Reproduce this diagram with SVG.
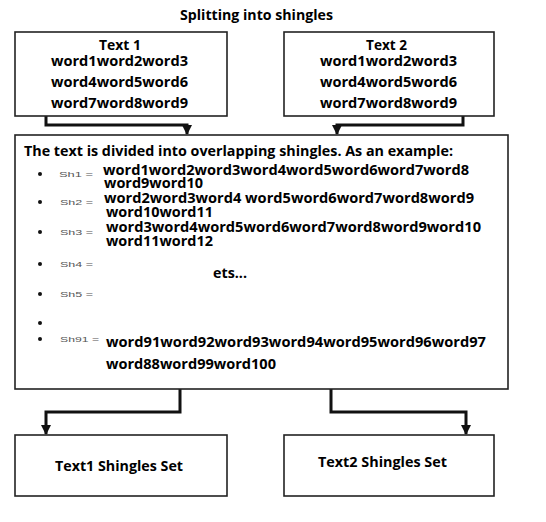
<svg xmlns="http://www.w3.org/2000/svg" width="546" height="522" viewBox="0 0 546 522">
<style>
.box{fill:#fff;stroke:#222;stroke-width:1.6}
.t{font-family:"Open Sans","Liberation Sans",sans-serif;font-weight:bold;font-size:15px;fill:#000}
.w{font-family:"Open Sans","Liberation Sans",sans-serif;font-weight:bold;font-size:14px;fill:#000}
.tt{font-family:"Open Sans","Liberation Sans",sans-serif;font-weight:bold;font-size:14px;fill:#000}
.sh{font-family:"Liberation Sans",sans-serif;font-size:8px;fill:#555}
.conn{fill:none;stroke:#111;stroke-width:3}
.bul{fill:#111}
</style>
<defs>
<marker id="ah" viewBox="0 0 10 10" refX="9" refY="5" markerWidth="3.4" markerHeight="3.4" orient="auto" markerUnits="strokeWidth">
<path d="M0,0 L10,5 L0,10 Z" fill="#111"/>
</marker>
</defs>
<rect width="546" height="522" fill="#fff"/>
<text id="title" class="tt" x="180" y="20" textLength="153" lengthAdjust="spacingAndGlyphs">Splitting into shingles</text>
<g id="connectors">
<path class="conn" d="M46,116 V125 H187 V134" marker-end="url(#ah)"/>
<path class="conn" d="M463,116 V125 H337 V134" marker-end="url(#ah)"/>
<path class="conn" d="M180,389 V412 H46 V434" marker-end="url(#ah)"/>
<path class="conn" d="M331,389 V412 H466 V434" marker-end="url(#ah)"/>
</g>
<g id="text1">
<rect class="box" x="15" y="32" width="212" height="84"/>
<text class="tt" x="99" y="50" textLength="42" lengthAdjust="spacingAndGlyphs">Text 1</text>
<text class="t" x="51" y="66" textLength="137" lengthAdjust="spacingAndGlyphs">word1word2word3</text>
<text class="t" x="51" y="87" textLength="137" lengthAdjust="spacingAndGlyphs">word4word5word6</text>
<text class="t" x="51" y="108" textLength="137" lengthAdjust="spacingAndGlyphs">word7word8word9</text>
</g>
<g id="text2">
<rect class="box" x="284" y="32" width="210" height="84"/>
<text class="tt" x="366" y="50" textLength="41" lengthAdjust="spacingAndGlyphs">Text 2</text>
<text class="t" x="320" y="66" textLength="137" lengthAdjust="spacingAndGlyphs">word1word2word3</text>
<text class="t" x="320" y="87" textLength="137" lengthAdjust="spacingAndGlyphs">word4word5word6</text>
<text class="t" x="320" y="108" textLength="137" lengthAdjust="spacingAndGlyphs">word7word8word9</text>
</g>
<g id="shingles">
<rect class="box" x="15" y="135" width="493" height="254"/>
<text class="t" x="24" y="156" textLength="429" lengthAdjust="spacingAndGlyphs">The text is divided into overlapping shingles. As an example:</text>
<circle class="bul" cx="40" cy="174" r="2"/>
<text class="sh" x="59" y="177" textLength="34" lengthAdjust="spacingAndGlyphs">Sh1 =</text>
<text class="w" x="103" y="175" textLength="366" lengthAdjust="spacingAndGlyphs">word1word2word3word4word5word6word7word8</text>
<text class="w" x="104" y="188" textLength="99" lengthAdjust="spacingAndGlyphs">word9word10</text>
<circle class="bul" cx="40" cy="202" r="2"/>
<text class="sh" x="60" y="205" textLength="33" lengthAdjust="spacingAndGlyphs">Sh2 =</text>
<text class="w" x="104" y="203" textLength="370" lengthAdjust="spacingAndGlyphs">word2word3word4 word5word6word7word8word9</text>
<text class="w" x="106" y="217" textLength="107" lengthAdjust="spacingAndGlyphs">word10word11</text>
<circle class="bul" cx="40" cy="232" r="2"/>
<text class="sh" x="60" y="235" textLength="33" lengthAdjust="spacingAndGlyphs">Sh3 =</text>
<text class="w" x="106" y="232" textLength="375" lengthAdjust="spacingAndGlyphs">word3word4word5word6word7word8word9word10</text>
<text class="w" x="106" y="246" textLength="107" lengthAdjust="spacingAndGlyphs">word11word12</text>
<circle class="bul" cx="40" cy="264" r="2"/>
<text class="sh" x="60" y="267" textLength="33" lengthAdjust="spacingAndGlyphs">Sh4 =</text>
<text class="tt" x="213" y="278" textLength="34" lengthAdjust="spacingAndGlyphs">ets...</text>
<circle class="bul" cx="40" cy="294" r="2"/>
<text class="sh" x="60" y="297" textLength="33" lengthAdjust="spacingAndGlyphs">Sh5 =</text>
<circle class="bul" cx="40" cy="323" r="2"/>
<circle class="bul" cx="40" cy="339" r="2"/>
<text class="sh" x="60" y="342" textLength="39" lengthAdjust="spacingAndGlyphs">Sh91 =</text>
<text class="t" x="106" y="347" textLength="380" lengthAdjust="spacingAndGlyphs">word91word92word93word94word95word96word97</text>
<text class="t" x="106" y="369" textLength="170" lengthAdjust="spacingAndGlyphs">word88word99word100</text>
</g>
<g id="set1">
<rect class="box" x="15" y="435" width="212" height="61"/>
<text class="tt" x="55" y="471" textLength="128" lengthAdjust="spacingAndGlyphs">Text1 Shingles Set</text>
</g>
<g id="set2">
<rect class="box" x="284" y="435" width="210" height="61"/>
<text class="tt" x="318" y="467" textLength="129" lengthAdjust="spacingAndGlyphs">Text2 Shingles Set</text>
</g>
</svg>
